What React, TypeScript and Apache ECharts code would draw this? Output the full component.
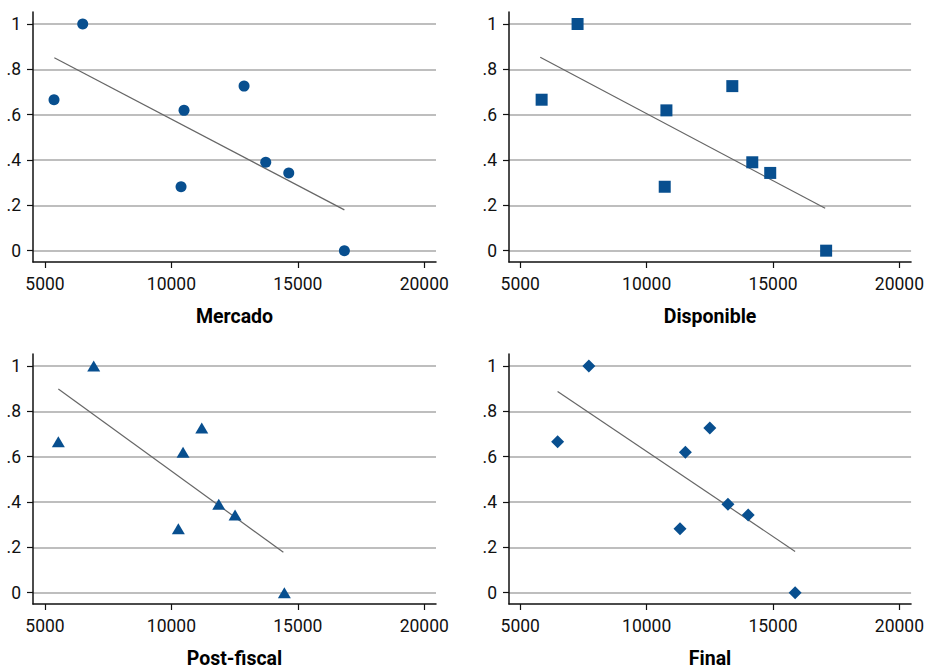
import React, { useEffect, useRef } from "react";
import * as echarts from "echarts";

const shares = [0.666, 1, 0.619, 0.282, 0.726, 0.39, 0.343, 0];
const mercadoX = [5356, 6491, 10498, 10380, 12872, 13730, 14640, 16840];
const disponibleX = [5845, 7267, 10782, 10715, 13389, 14179, 14889, 17101];
const postFiscalX = [5527, 6926, 10459, 10273, 11199, 11871, 12516, 14466];
const finalX = [6477, 7713, 11532, 11319, 12500, 13216, 14018, 15874];

const mercadoFit = [[5368, 0.851], [16840, 0.18]];
const disponibleFit = [[5790, 0.853], [17062, 0.187]];
const postFiscalFit = [[5527, 0.899], [14427, 0.178]];
const finalFit = [[6477, 0.888], [15874, 0.182]];

const panelTitles = ["Mercado", "Disponible", "Post-fiscal", "Final"];
const xTicks = [5000, 10000, 15000, 20000];
const yTicks = [0, 0.2, 0.4, 0.6, 0.8, 1];

const FONT = "Roboto, 'Liberation Sans', sans-serif";
const BLUE = "#084f8f";

export default function App() {
  const ref = useRef<HTMLDivElement>(null);
  useEffect(() => {
    document.body.style.margin = "0";
    const chart = echarts.init(ref.current!, null, { renderer: "svg" });
    const panels = [
      { xs: mercadoX, fit: mercadoFit, symbol: "circle", size: 11, left: 33, top: 12, xMin: 4525, xMax: 20463 },
      { xs: disponibleX, fit: disponibleFit, symbol: "rect", size: 12, left: 509, top: 12, xMin: 4554, xMax: 20462 },
      { xs: postFiscalX, fit: postFiscalFit, symbol: "triangle", size: [13, 11], left: 33, top: 354, xMin: 4525, xMax: 20463 },
      { xs: finalX, fit: finalFit, symbol: "diamond", size: 13, left: 509, top: 354, xMin: 4554, xMax: 20462 },
    ];
    const grid = panels.map((p) => ({ left: p.left, top: p.top, width: 403, height: 250, containLabel: false }));
    const xAxis = panels.map((p, i) => ({
      type: "value",
      gridIndex: i,
      min: p.xMin,
      max: p.xMax,
      name: panelTitles[i],
      nameLocation: "middle",
      nameGap: 44,
      nameTextStyle: { fontFamily: FONT, fontWeight: "bold", fontSize: 19.5, color: "#000" },
      axisLine: { show: true, onZero: false, lineStyle: { color: "#111", width: 1.5 } },
      axisTick: { show: true, length: 6, customValues: xTicks, lineStyle: { color: "#111", width: 1.2 } },
      axisLabel: {
        customValues: xTicks,
        margin: 13,
        fontFamily: FONT,
        fontSize: 17.5,
        color: "#111",
        hideOverlap: false,
        formatter: (v: number) => String(Math.round(v)),
      },
      splitLine: { show: false },
    }));
    const yAxis = panels.map((p, i) => ({
      type: "value",
      gridIndex: i,
      min: -0.05,
      max: 1.053,
      axisLine: { show: true, onZero: false, lineStyle: { color: "#111", width: 1.5 } },
      axisTick: { show: true, length: 6, customValues: yTicks, lineStyle: { color: "#111", width: 1.2 } },
      axisLabel: {
        customValues: yTicks,
        margin: 12,
        fontFamily: FONT,
        fontSize: 17.5,
        color: "#111",
        formatter: (v: number) => {
          if (v === 0) return "0";
          if (Math.abs(v - 1) < 1e-9) return "1";
          return "." + Math.round(v * 10);
        },
      },
      splitLine: { show: true, lineStyle: { color: "#a8a8a8", width: 1.5 } },
    }));
    const series: any[] = [];
    panels.forEach((p, i) => {
      series.push({
        type: "line",
        xAxisIndex: i,
        yAxisIndex: i,
        data: p.fit,
        showSymbol: false,
        symbol: "none",
        lineStyle: { color: "#666", width: 1.2 },
        z: 2,
        silent: true,
      });
      series.push({
        type: "scatter",
        xAxisIndex: i,
        yAxisIndex: i,
        data: p.xs.map((x, k) => [x, shares[k]]),
        symbol: p.symbol,
        symbolSize: p.size,
        itemStyle: { color: BLUE, opacity: 1 },
        z: 3,
      });
    });
    chart.setOption({
      animation: false,
      backgroundColor: "#fff",
      textStyle: { fontFamily: FONT },
      grid,
      xAxis,
      yAxis,
      series,
    });
    return () => chart.dispose();
  }, []);
  return <div ref={ref} style={{ width: 927, height: 672 }} />;
}
